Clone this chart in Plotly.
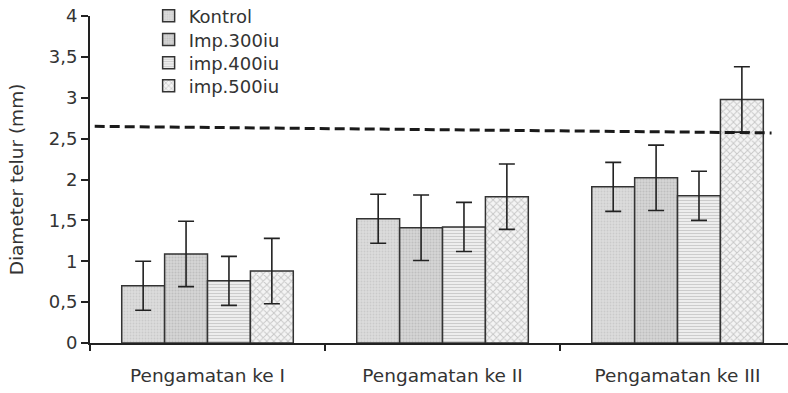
import plotly.graph_objects as go

categories = ["Pengamatan ke I", "Pengamatan ke II", "Pengamatan ke III"]
series_names = ["Kontrol", "Imp.300iu", "imp.400iu", "imp.500iu"]
kontrol = [0.70, 1.52, 1.91]
imp300 = [1.09, 1.41, 2.02]
imp400 = [0.76, 1.42, 1.80]
imp500 = [0.88, 1.79, 2.98]
err_kontrol = [0.3, 0.3, 0.3]
err_imp300 = [0.4, 0.4, 0.4]
err_imp400 = [0.3, 0.3, 0.3]
err_imp500 = [0.4, 0.4, 0.4]
y_ticks = [0, 0.5, 1, 1.5, 2, 2.5, 3, 3.5, 4]
ref_line_x = [-0.48, 2.40]
ref_line_y = [2.65, 2.57]
legend_rows_y = [1.0, 0.927, 0.856, 0.786]

values = [kontrol, imp300, imp400, imp500]
errors = [err_kontrol, err_imp300, err_imp400, err_imp500]
patterns = [
    dict(shape=".", bgcolor="#dcdcdc", fgcolor="#b8b8b8", size=3, solidity=0.3),
    dict(shape=".", bgcolor="#d6d6d6", fgcolor="#a8a8a8", size=3, solidity=0.4),
    dict(shape="-", bgcolor="#f0f0f0", fgcolor="#a8a8a8", size=3, solidity=0.4),
    dict(shape="x", bgcolor="#f4f4f4", fgcolor="#9a9a9a", size=5, solidity=0.35),
]
legend_ids = ["legend", "legend2", "legend3", "legend4"]

FONT = "DejaVu Sans, Verdana, sans-serif"

fig = go.Figure()
for name, vals, errs, pat, lid in zip(series_names, values, errors, patterns, legend_ids):
    fig.add_trace(go.Bar(
        x=categories, y=vals, name=name, legend=lid,
        marker=dict(color=pat["bgcolor"], pattern=pat,
                    line=dict(color="#333333", width=1.5)),
        error_y=dict(type="data", array=errs, visible=True,
                     color="#222222", thickness=1.6, width=8),
    ))

fig.add_shape(type="line", xref="x", yref="y",
              x0=ref_line_x[0], x1=ref_line_x[1], y0=ref_line_y[0], y1=ref_line_y[1],
              line=dict(color="#1a1a1a", width=3, dash="10px,5px"))

legend_common = dict(x=0.084, xanchor="left", yanchor="middle",
                     bgcolor="rgba(0,0,0,0)", font=dict(size=18, family=FONT, color="#333333"),
                     itemwidth=30)
legends = {}
for lid, ly in zip(legend_ids, legend_rows_y):
    legends[lid] = dict(legend_common, y=ly)

fig.update_layout(
    width=788, height=393,
    margin=dict(l=90, r=0, t=16, b=50, autoexpand=False),
    paper_bgcolor="white", plot_bgcolor="white",
    barmode="group", bargap=0.27, bargroupgap=0,
    separators=",.",
    font=dict(family=FONT, size=18, color="#333333"),
    showlegend=True,
    xaxis=dict(type="category", range=[-0.5, 2.47], showline=True, linecolor="#222222",
               linewidth=2, ticks="outside", tickson="boundaries", ticklen=6,
               tickwidth=2, tickcolor="#222222", showgrid=False, automargin=False,
               tickfont=dict(size=18.5, color="#333333"), ticklabelstandoff=15),
    yaxis=dict(range=[0, 4], tickvals=y_ticks, showline=True, linecolor="#222222",
               linewidth=2, ticks="outside", ticklen=7, tickwidth=2, tickcolor="#222222",
               showgrid=False, zeroline=False, tickformat=".1~f", automargin=False,
               ticklabeloverflow="allow",
               tickfont=dict(size=18, color="#333333"),
               title=dict(text="Diameter telur (mm)", font=dict(size=18.5, color="#333333"),
                          standoff=20)),
    **legends,
)

fig.write_html("out.html", config={"displayModeBar": False},
               post_script="document.body.style.margin='0';document.body.style.overflow='hidden';")
